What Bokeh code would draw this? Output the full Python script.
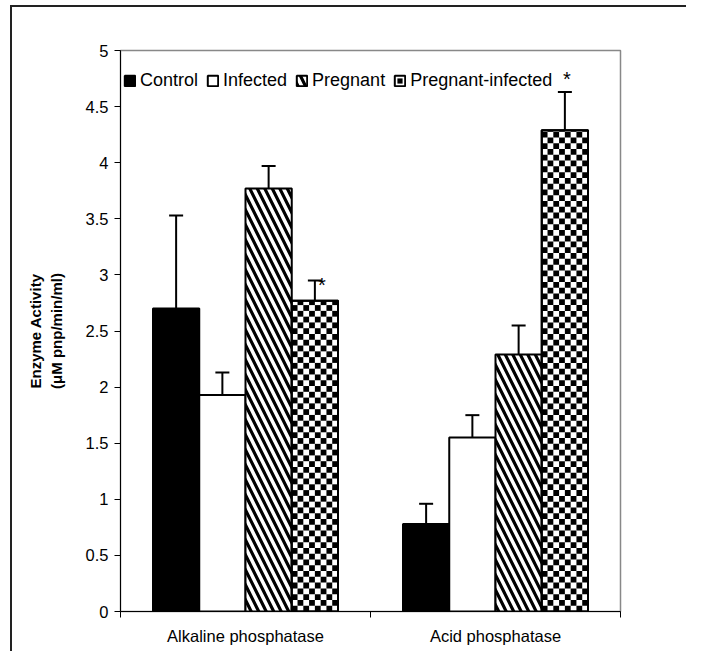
import numpy as np
from bokeh.plotting import figure
from bokeh.models import (Range1d, FixedTicker, Whisker, ColumnDataSource, Legend,
                          LegendItem, TeeHead)
from bokeh.core.properties import value
from bokeh.embed import file_html
from bokeh.resources import INLINE

# ---------------- data ----------------
categories = ["Alkaline phosphatase", "Acid phosphatase"]
groups = ["Control", "Infected", "Pregnant", "Pregnant-infected"]
control = [2.70, 0.78]
control_err = [0.83, 0.18]
infected = [1.93, 1.55]
infected_err = [0.20, 0.20]
pregnant = [3.77, 2.29]
pregnant_err = [0.20, 0.26]
preg_inf = [2.77, 4.29]
preg_inf_err = [0.18, 0.34]
preg_inf_sig = [True, True]
y_ticks = [0, 0.5, 1, 1.5, 2, 2.5, 3, 3.5, 4, 4.5, 5]
y_tick_labels = ["0", "0.5", "1", "1.5", "2", "2.5", "3", "3.5", "4", "4.5", "5"]
y_label = "Enzyme Activity\n(\u03bcM pnp/min/ml)"

FONT = "Liberation Sans"
FRAME_W, FRAME_H = 500, 561
Y_MAX = 5.0
X_MAX = 2.0

p = figure(frame_width=FRAME_W, frame_height=FRAME_H, output_backend="svg", toolbar_location=None,
           x_range=Range1d(0, X_MAX), y_range=Range1d(0, Y_MAX),
           min_border_left=108, min_border_top=43, min_border_right=66, min_border_bottom=40)
p.styles = {"border-left": "2px solid #222", "border-top": "2px solid #222",
            "margin-left": "10px", "margin-top": "5px"}
p.xgrid.visible = False
p.ygrid.visible = False
p.outline_line_color = "#888888"
p.outline_line_width = 1.5

n_groups = len(groups)
bar_w = 0.185
cat_idx = np.arange(len(categories))
series = [control, infected, pregnant, preg_inf]
errors = [control_err, infected_err, pregnant_err, preg_inf_err]
styles = [
    dict(fill_color="black"),
    dict(fill_color="white"),
    dict(fill_color="white", hatch_pattern="left_diagonal_line", hatch_color="black",
         hatch_weight=3.2, hatch_scale=15),
    dict(fill_color="white"),
]

items = []
xs_all = []
for j, (vals, errs, st) in enumerate(zip(series, errors, styles)):
    xs = cat_idx + 0.5 + (j - (n_groups - 1) / 2) * bar_w
    xs_all.append(xs)
    vals = np.array(vals)
    errs = np.array(errs)
    src = ColumnDataSource(dict(x=xs, top=vals, upper=vals + errs))
    r = p.vbar(x="x", top="top", bottom=0, width=bar_w, source=src,
               line_color="black", line_width=2, **st)
    rends = [r]
    if j == 3:
        # checkerboard fill for the pregnant-infected bars
        n_cols = 8
        cell_x = bar_w / n_cols
        cell_px = cell_x / X_MAX * FRAME_W
        cell_y = cell_px / FRAME_H * Y_MAX
        L, R, B, T = [], [], [], []
        for xc, tp in zip(xs, vals):
            n_rows = int(np.ceil(tp / cell_y))
            for rr in range(n_rows):
                for cc in range(n_cols):
                    if (rr + cc) % 2 == 0:
                        L.append(xc - bar_w / 2 + cc * cell_x)
                        R.append(xc - bar_w / 2 + (cc + 1) * cell_x)
                        B.append(rr * cell_y)
                        T.append(min((rr + 1) * cell_y, tp))
        p.quad(left=L, right=R, bottom=B, top=T, fill_color="black", line_color=None)
        p.vbar(x="x", top="top", bottom=0, width=bar_w, source=src,
               fill_color=None, line_color="black", line_width=2)
        # zero-size marker: invisible in the plot, draws the legend icon's centre square
        dot = p.scatter(x="x", y="top", source=src, size=0, marker="square",
                        fill_color="black", line_color=None)
        rends.append(dot)
    items.append(LegendItem(label=groups[j], renderers=rends))
    w = Whisker(base="x", lower="top", upper="upper", source=src, dimension="height",
                line_color="black", line_width=2,
                upper_head=TeeHead(size=14, line_width=2, line_color="black"), lower_head=None)
    p.add_layout(w)

# significance stars
pi_vals = np.array(preg_inf)
pi_up = pi_vals + np.array(preg_inf_err)
sig = np.array(preg_inf_sig)
star_dx = [7, 2]
star_dy = [4, -13]
star_src = ColumnDataSource(dict(x=xs_all[3][sig], y=pi_up[sig], t=["*"] * int(sig.sum()),
                                 dx=np.array(star_dx)[sig], dy=np.array(star_dy)[sig]))
p.text(x="x", y="y", text="t", source=star_src, text_font=value(FONT), text_font_size="20px",
       text_align="center", text_baseline="alphabetic", x_offset="dx", y_offset="dy",
       text_color="black")

legend = Legend(items=items, orientation="horizontal", location=(3, FRAME_H - 41),
                label_text_font=FONT, label_text_font_size="18px", label_text_color="black",
                glyph_width=13, glyph_height=13, label_standoff=4, spacing=8,
                padding=4, margin=0, border_line_color=None, background_fill_alpha=0,
                label_height=20)
p.add_layout(legend)

# axes
xa = p.xaxis[0]
xa.ticker = FixedTicker(ticks=list(cat_idx + 0.5), minor_ticks=list(range(len(categories) + 1)))
xa.major_label_overrides = {float(i + 0.5): c for i, c in enumerate(categories)}
xa.major_tick_out = 0
xa.major_tick_in = 0
xa.minor_tick_out = 6
xa.minor_tick_in = 0
xa.minor_tick_line_color = "black"
xa.axis_line_color = "black"
xa.major_label_text_font = FONT
xa.major_label_text_font_size = "16.5px"
xa.major_label_text_color = "black"
xa.major_label_standoff = 9

ya = p.yaxis[0]
ya.ticker = FixedTicker(ticks=y_ticks, minor_ticks=[])
ya.major_label_overrides = {float(t): l for t, l in zip(y_ticks, y_tick_labels)}
ya.major_tick_out = 6
ya.major_tick_in = 0
ya.axis_line_color = "black"
ya.major_tick_line_color = "black"
ya.major_label_text_font = FONT
ya.major_label_text_font_size = "16.5px"
ya.major_label_text_color = "black"
ya.major_label_standoff = 6
ya.axis_label = y_label
ya.axis_label_text_font = FONT
ya.axis_label_text_font_style = "bold"
ya.axis_label_text_font_size = "15px"
ya.axis_label_text_color = "black"
ya.axis_label_standoff = 18

open("out.html", "w").write(file_html(p, INLINE))
